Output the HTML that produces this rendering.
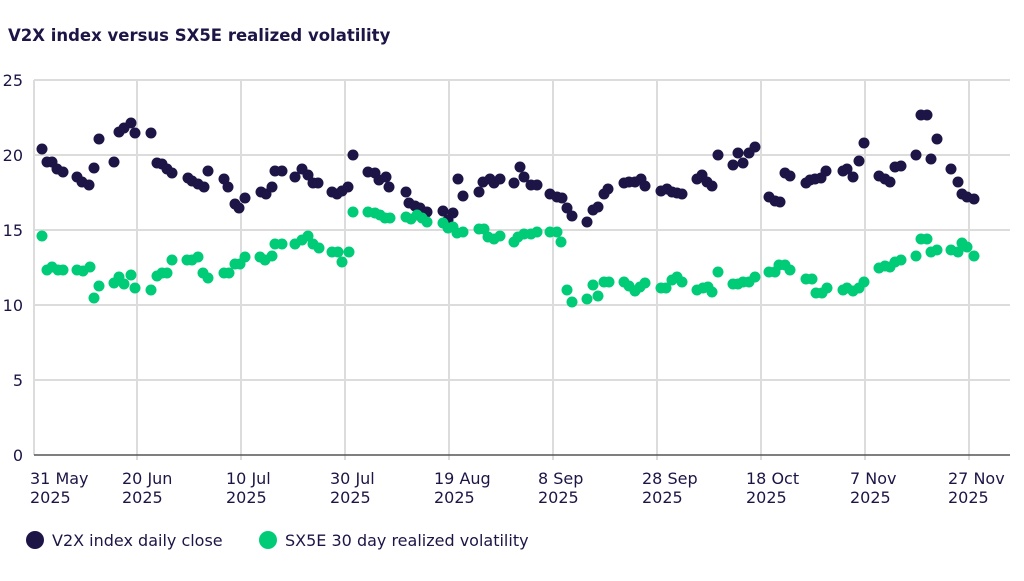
<!DOCTYPE html>
<html><head><meta charset="utf-8"><style>
body{margin:0;background:#fff;width:1024px;height:577px;overflow:hidden;font-family:"DejaVu Sans",sans-serif;}
</style></head><body>
<svg id="s" width="1024" height="577" xmlns="http://www.w3.org/2000/svg" font-family="DejaVu Sans, sans-serif">
<text x="8" y="41" font-size="16.5" font-weight="bold" fill="#1c1546">V2X index versus SX5E realized volatility</text>
<g stroke="#dcdcdc" stroke-width="2">
<line x1="34" y1="80" x2="1010" y2="80"/><line x1="34" y1="155" x2="1010" y2="155"/><line x1="34" y1="230" x2="1010" y2="230"/><line x1="34" y1="305" x2="1010" y2="305"/><line x1="34" y1="380" x2="1010" y2="380"/>
<line x1="34" y1="80" x2="34" y2="455"/><line x1="137" y1="80" x2="137" y2="460"/><line x1="241" y1="80" x2="241" y2="460"/><line x1="345" y1="80" x2="345" y2="460"/><line x1="449" y1="80" x2="449" y2="460"/><line x1="553" y1="80" x2="553" y2="460"/><line x1="657" y1="80" x2="657" y2="460"/><line x1="761" y1="80" x2="761" y2="460"/><line x1="865" y1="80" x2="865" y2="460"/><line x1="969" y1="80" x2="969" y2="460"/>
</g>
<line x1="34" y1="455" x2="1010" y2="455" stroke="#555" stroke-width="1.5"/>
<g font-size="16" fill="#1c1546" text-anchor="end">
<text x="23" y="86">25</text><text x="23" y="161">20</text><text x="23" y="236">15</text><text x="23" y="311">10</text><text x="23" y="386">5</text><text x="23" y="461">0</text>
</g>
<g font-size="16" fill="#1c1546">
<text x="30" y="484">31 May</text><text x="30" y="503">2025</text>
<text x="122" y="484">20 Jun</text><text x="122" y="503">2025</text>
<text x="226" y="484">10 Jul</text><text x="226" y="503">2025</text>
<text x="330" y="484">30 Jul</text><text x="330" y="503">2025</text>
<text x="434" y="484">19 Aug</text><text x="434" y="503">2025</text>
<text x="538" y="484">8 Sep</text><text x="538" y="503">2025</text>
<text x="642" y="484">28 Sep</text><text x="642" y="503">2025</text>
<text x="746" y="484">18 Oct</text><text x="746" y="503">2025</text>
<text x="850" y="484">7 Nov</text><text x="850" y="503">2025</text>
<text x="948" y="484">27 Nov</text><text x="948" y="503">2025</text>
</g>
<circle cx="35" cy="540" r="9" fill="#1c1546"/>
<text x="52" y="546" font-size="16" fill="#1c1546">V2X index daily close</text>
<circle cx="268" cy="540" r="9" fill="#00cc77"/>
<text x="285" y="546" font-size="16" fill="#1c1546">SX5E 30 day realized volatility</text>
<g id="n" fill="#1c1546"></g><g id="g" fill="#00cc77"></g>
</svg>
<script>
var N=[42,149,47,162,52,162,57,169,63,172,77,177,82,182,89,185,94,168,99,139,114,162,119,132,124,128,131,123,135,133,151,133,157,163,162,164,167,169,172,173,188,178,192,181,198,184,204,187,208,171,224,179,228,187,235,204,239,208,245,198,261,192,266,194,272,187,275,171,282,171,295,177,302,169,308,175,313,183,318,183,332,192,337,194,342,191,348,187,353,155,368,172,375,173,379,180,386,177,389,187,406,192,409,203,415,206,420,208,427,212,443,211,448,220,453,213,458,179,463,196,479,192,483,182,490,179,494,183,500,179,514,183,520,167,524,177,531,185,537,185,550,194,557,197,562,198,567,208,572,216,587,222,593,210,598,207,604,194,608,189,624,183,629,182,635,182,641,179,645,186,661,191,667,189,672,192,677,193,682,194,697,179,702,175,707,182,712,186,718,155,733,165,738,153,743,163,749,153,755,147,769,197,775,201,780,202,785,173,790,176,806,183,810,180,815,179,821,178,826,171,843,171,847,169,853,177,859,161,864,143,879,176,885,179,890,182,895,167,901,166,916,155,921,115,927,115,931,159,937,139,951,169,958,182,962,194,967,197,974,199];
var G=[42,236,47,270,52,267,58,270,63,270,77,270,83,271,90,267,94,298,99,286,114,283,119,277,124,284,131,275,135,288,151,290,157,276,162,273,167,273,172,260,187,260,192,260,198,257,203,273,208,278,224,273,229,273,235,264,240,264,245,257,260,257,265,260,272,256,275,244,282,244,295,244,302,240,308,236,313,244,319,248,332,252,338,252,342,262,349,252,353,212,368,212,375,213,380,215,385,218,390,218,406,217,411,219,417,215,422,218,427,222,443,223,448,228,453,227,457,233,463,232,479,229,484,229,488,237,494,239,500,236,514,242,518,237,524,234,531,234,537,232,550,232,557,232,561,242,567,290,572,302,587,299,593,285,598,296,604,282,609,282,624,282,629,286,635,291,640,287,645,283,661,288,666,288,672,280,677,277,682,282,697,290,703,288,708,287,712,292,718,272,733,284,738,284,743,282,749,282,755,277,769,272,775,272,779,265,785,265,790,270,806,279,812,279,816,293,822,293,827,288,843,290,847,288,853,291,859,288,864,282,879,268,885,266,890,267,895,262,901,260,916,256,921,239,927,239,931,252,937,250,951,250,958,252,962,243,967,247,974,256];
function draw(a,id){var g=document.getElementById(id),h='';for(var i=0;i<a.length;i+=2)h+='<circle cx="'+a[i]+'" cy="'+a[i+1]+'" r="5.5"/>';g.innerHTML=h;}
draw(N,'n');draw(G,'g');
</script>
</body></html>
